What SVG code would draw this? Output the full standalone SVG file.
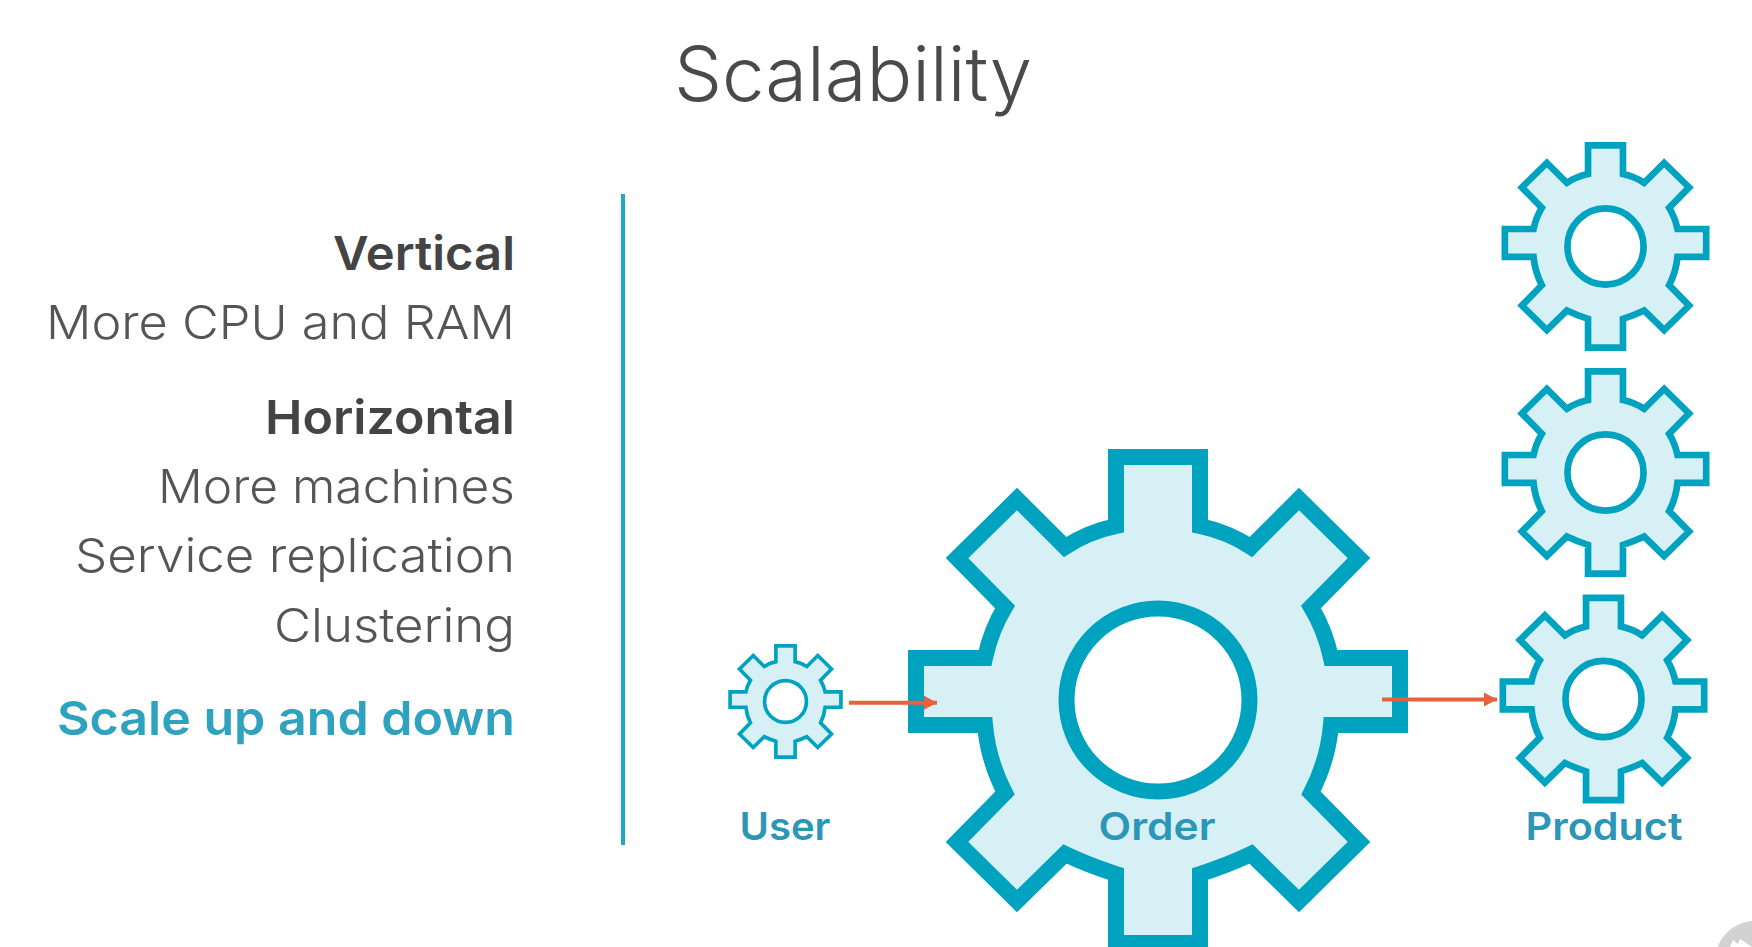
<svg xmlns="http://www.w3.org/2000/svg" xmlns:xlink="http://www.w3.org/1999/xlink" width="1752" height="947" viewBox="0 0 1752 947">
<style>
text{font-family:"Inter","Lato","Liberation Sans",sans-serif}
.r{text-anchor:end;font-size:47px;fill:#555;font-weight:300}
.b{font-weight:600;fill:#444}
.t{fill:#2ea2bf;font-weight:600}
.l{text-anchor:middle;font-size:38px;font-weight:600;fill:#2c96b6}
.gear{fill:#d6f0f5;stroke:#00a3bf;stroke-width:16;stroke-linejoin:miter}
.hole{fill:#fff;stroke:#00a3bf;stroke-width:16}
.c{stroke:#e8603c;stroke-width:4;fill:none;marker-end:url(#a)}
</style>
<defs>
<marker id="a" markerUnits="userSpaceOnUse" markerWidth="14" markerHeight="14" refX="13" refY="7" orient="auto"><path d="M0,0L13,7L0,14Z" fill="#e8603c"/></marker>
<g id="g">
<path class="gear" d="M-42,-243H42V-174Q70,-168 93,-153L141,-201L201,-142L153,-93Q167,-70 173,-42H242V25H173Q170,60 153,93L201,142L141,201L93,154Q70,165 42,174V243H-42V174Q-70,165 -93,154L-141,201L-201,142L-153,93Q-170,60 -173,25H-242V-42H-173Q-167,-70 -153,-93L-201,-142L-141,-201L-93,-153Q-70,-168 -42,-174Z"/>
<circle class="hole" r="91.5"/>
</g>
</defs>
<rect width="1752" height="947" fill="#fff"/>
<text x="853" y="101" text-anchor="middle" font-size="75" font-weight="300" fill="#4a4a4a" textLength="358" lengthAdjust="spacingAndGlyphs">Scalability</text>
<g id="text-list">
<text class="r b" x="515" y="270" textLength="182" lengthAdjust="spacingAndGlyphs">Vertical</text>
<text class="r" x="515" y="339" textLength="469" lengthAdjust="spacingAndGlyphs">More CPU and RAM</text>
<text class="r b" x="515" y="434" textLength="250" lengthAdjust="spacingAndGlyphs">Horizontal</text>
<text class="r" x="515" y="503" textLength="357" lengthAdjust="spacingAndGlyphs">More machines</text>
<text class="r" x="515" y="572" textLength="440" lengthAdjust="spacingAndGlyphs">Service replication</text>
<text class="r" x="515" y="642" textLength="241" lengthAdjust="spacingAndGlyphs">Clustering</text>
<text class="r t" x="515" y="735" textLength="458" lengthAdjust="spacingAndGlyphs">Scale up and down</text>
</g>
<rect id="divider" x="621" y="194" width="4" height="651" fill="#1fa9c9"/>
<g id="node-user"><use xlink:href="#g" href="#g" transform="translate(785.5,701.5) scale(.229)"/></g>
<g id="node-order"><use xlink:href="#g" href="#g" transform="translate(1158,700)"/></g>
<g id="node-product-1"><use xlink:href="#g" href="#g" transform="translate(1605.5,246.5) scale(.416)"/></g>
<g id="node-product-2"><use xlink:href="#g" href="#g" transform="translate(1605.5,472.5) scale(.416)"/></g>
<g id="node-product-3"><use xlink:href="#g" href="#g" transform="translate(1603.5,699) scale(.416)"/></g>
<g id="connectors">
<path class="c" d="M849,702.7H937"/>
<path class="c" d="M1382,699.5H1497"/>
</g>
<text class="l" x="785" y="840" textLength="91" lengthAdjust="spacingAndGlyphs">User</text>
<text class="l" x="1157" y="840" textLength="117" lengthAdjust="spacingAndGlyphs">Order</text>
<text class="l" x="1604" y="840" textLength="157" lengthAdjust="spacingAndGlyphs">Product</text>
<g id="corner-badge"><circle cx="1755" cy="961" r="40" fill="#d2d2d2"/><path d="M1730,947L1733,940L1738,944L1740,939L1752,947Z" fill="#fff"/></g>
</svg>
